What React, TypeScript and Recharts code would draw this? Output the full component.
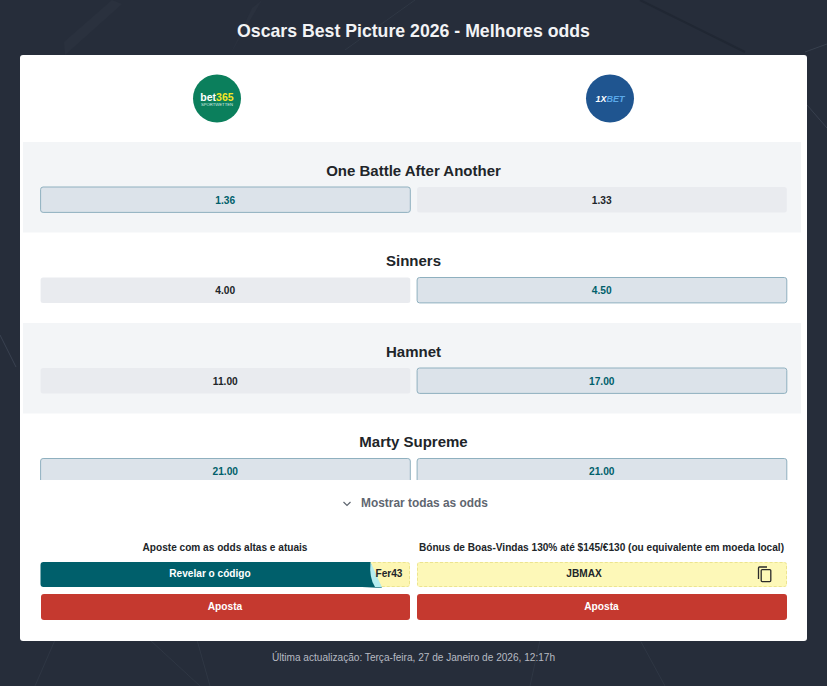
import { BarChart, Bar, XAxis, YAxis, ReferenceArea } from 'recharts';

const films = ['One Battle After Another', 'Sinners', 'Hamnet', 'Marty Supreme'];
const bet365Odds = [1.36, 4.0, 11.0, 21.0];
const onexbetOdds = [1.33, 4.5, 17.0, 21.0];
const stripedFilms = ['One Battle After Another', 'Hamnet'];

const rows = films.map((film, i) => ({
  film,
  bet365: bet365Odds[i],
  onexbet: onexbetOdds[i],
  best: Math.max(bet365Odds[i], onexbetOdds[i]),
  slotA: 1,
  slotB: 1,
}));

const FONT = '"Liberation Sans", Arial, sans-serif';

const OddsCell = (props: any) => {
  const { x, y, width, height, payload, oddsKey } = props;
  const odds = payload[oddsKey];
  const isBest = odds === payload.best;
  return (
    <g>
      <rect
        x={x + 3.6}
        y={y + 13}
        width={width - 6.8}
        height={height - 0.6}
        rx={2.5}
        fill={isBest ? '#dce3ea' : '#e9ebef'}
        stroke={isBest ? '#8fb0bf' : 'none'}
        strokeWidth={1}
      />
      <text
        x={x + width / 2}
        y={y + 13 + height / 2 + 3.6}
        textAnchor="middle"
        fontFamily={FONT}
        fontWeight="bold"
        fontSize={10.2}
        fill={isBest ? '#005f6b' : '#212529'}
      >
        {odds.toFixed(2)}
      </text>
    </g>
  );
};

const FilmTick = (props: any) => {
  const { y, payload } = props;
  return (
    <text x={413.5} y={y - 11.5} textAnchor="middle" fontFamily={FONT} fontWeight="bold" fontSize={15} fill="#212529">
      {payload.value}
    </text>
  );
};

const RowStripe = (props: any) => <rect x={23} y={props.y} width={778} height={props.height} fill="#f3f5f7" />;

const Label = ({ x, y, w, size, color, bold, children }: any) => (
  <div
    style={{
      position: 'absolute',
      left: x - w / 2,
      top: y - 10,
      width: w,
      height: 20,
      lineHeight: '20px',
      textAlign: 'center',
      whiteSpace: 'nowrap',
      fontFamily: FONT,
      fontSize: size,
      fontWeight: bold ? 'bold' : 'normal',
      color,
    }}
  >
    {children}
  </div>
);

const Box = ({ x, y, w, h, bg, border, radius = 3 }: any) => (
  <div
    style={{
      position: 'absolute',
      left: x,
      top: y,
      width: w,
      height: h,
      boxSizing: 'border-box',
      background: bg,
      border,
      borderRadius: radius,
    }}
  />
);

export default function App() {
  return (
    <div style={{ position: 'absolute', left: 0, top: 0, width: 827, height: 686, overflow: 'hidden', background: '#262d3a' }}>
      <svg width={827} height={686} style={{ position: 'absolute', left: 0, top: 0 }} fill="none">
        <path d="M65 55 L122 4 L112 0 L64 42 Z" fill="#2a313e" />
        <path d="M230 55 L252 8 L262 0 Z" fill="#2a313e" />
        <path d="M345 50 L415 0" stroke="#2f3744" />
        <path d="M640 0 L745 52" stroke="#202733" strokeWidth={2} />
        <path d="M805 52 L827 44" stroke="#38404e" />
        <path d="M807 105 L827 128" stroke="#38404e" />
        <path d="M0 335 L16 367" stroke="#3a4250" />
        <path d="M55 640 L35 686 M197 640 L210 686 M150 640 L200 686" stroke="#2f3744" />
        <path d="M640 640 L665 686 M540 640 L530 686" stroke="#2f3744" />
      </svg>

      <Label x={413.5} y={31} w={600} size={17.7} color="#f2f3f5" bold>
        Oscars Best Picture 2026 - Melhores odds
      </Label>

      <Box x={20} y={55} w={787} h={586} bg="#ffffff" radius={3} />

      {/* bookmaker logos */}
      <svg width={827} height={140} style={{ position: 'absolute', left: 0, top: 0 }}>
        <circle cx={217} cy={98.5} r={24} fill="#0b7f5c" />
        <text x={217} y={100.5} textAnchor="middle" fontFamily={FONT} fontWeight="bold" fontSize={10.5} fill="#ffffff">
          bet<tspan fill="#f5e625">365</tspan>
        </text>
        <text x={217} y={105.5} textAnchor="middle" fontFamily={FONT} fontSize={4.2} fill="#d6eee5">
          SPORTWETTEN
        </text>
        <circle cx={610} cy={98.5} r={24} fill="#1f5590" />
        <text x={610} y={102} textAnchor="middle" fontFamily={FONT} fontWeight="bold" fontStyle="italic" fontSize={9} fill="#ffffff">
          1X<tspan fill="#5aa9ea">BET</tspan>
        </text>
      </svg>

      {/* odds rows, clipped at the "show all" fold */}
      <div style={{ position: 'absolute', left: 0, top: 142, width: 827, height: 338, overflow: 'hidden' }}>
        <BarChart
          width={827}
          height={362}
          data={rows}
          layout="vertical"
          barSize={26}
          margin={{ top: 0, right: 26, left: 22, bottom: 0 }}
        >
          {stripedFilms.map((film) => (
            <ReferenceArea key={film} y1={film} y2={film} shape={<RowStripe />} />
          ))}
          <XAxis type="number" domain={[0, 2]} hide padding={{ left: 14, right: 11 }} />
          <YAxis type="category" dataKey="film" width={1} axisLine={false} tickLine={false} tick={<FilmTick />} interval={0} />
          <Bar dataKey="slotA" stackId="odds" isAnimationActive={false} shape={<OddsCell oddsKey="bet365" />} />
          <Bar dataKey="slotB" stackId="odds" isAnimationActive={false} shape={<OddsCell oddsKey="onexbet" />} />
        </BarChart>
      </div>

      <svg width={12} height={12} style={{ position: 'absolute', left: 341, top: 498 }} fill="none">
        <path d="M2.5 4 L6 7.5 L9.5 4" stroke="#5f6670" strokeWidth={1.2} />
      </svg>
      <Label x={424.5} y={503} w={200} size={11.9} color="#5f6670" bold>
        Mostrar todas as odds
      </Label>

      <Label x={225} y={547.5} w={370} size={10.1} color="#212529" bold>
        Aposte com as odds altas e atuais
      </Label>
      <Label x={601.5} y={547.5} w={370} size={10.1} color="#212529" bold>
        Bónus de Boas-Vindas 130% até $145/€130 (ou equivalente em moeda local)
      </Label>

      {/* revealed code behind the teal button */}
      <Box x={340} y={562} w={70} h={25} bg="#fdf6b2" border="1px dashed #ece48f" />
      <svg width={827} height={30} style={{ position: 'absolute', left: 0, top: 560 }}>
        <path d="M43.5 2 H370.5 L374 14 L382 28 L362 27 H43.5 Q40.5 27 40.5 24 V5 Q40.5 2 43.5 2 Z" fill="#005f6b" />
        <path d="M370.5 2 L382 27.5 L375 27 Q369 18 370.5 2 Z" fill="#b5ecef" />
      </svg>
      <Label x={210} y={574} w={200} size={10.1} color="#ffffff" bold>
        Revelar o código
      </Label>
      <Label x={389} y={574} w={40} size={10.1} color="#212529" bold>
        Fer43
      </Label>

      <Box x={417} y={562} w={370} h={25} bg="#fdf8b8" border="1px dashed #ece48f" />
      <Label x={584} y={574} w={100} size={10.1} color="#212529" bold>
        JBMAX
      </Label>
      <svg width={16} height={18} style={{ position: 'absolute', left: 757, top: 566 }} fill="none" stroke="#2b2b2b" strokeWidth={1.3}>
        <path d="M1.5 13 V2 Q1.5 1 2.5 1 H10" />
        <rect x={4.2} y={3.6} width={9.6} height={12} rx={1} />
      </svg>

      <Box x={40.5} y={594} w={369.5} h={26} bg="#c5392f" />
      <Label x={225} y={607} w={200} size={10.2} color="#ffffff" bold>
        Aposta
      </Label>
      <Box x={417} y={594} w={370} h={26} bg="#c5392f" />
      <Label x={601.5} y={607} w={200} size={10.2} color="#ffffff" bold>
        Aposta
      </Label>

      <Label x={413.5} y={658} w={500} size={10.1} color="#b6bac2">
        Última actualização: Terça-feira, 27 de Janeiro de 2026, 12:17h
      </Label>
    </div>
  );
}
